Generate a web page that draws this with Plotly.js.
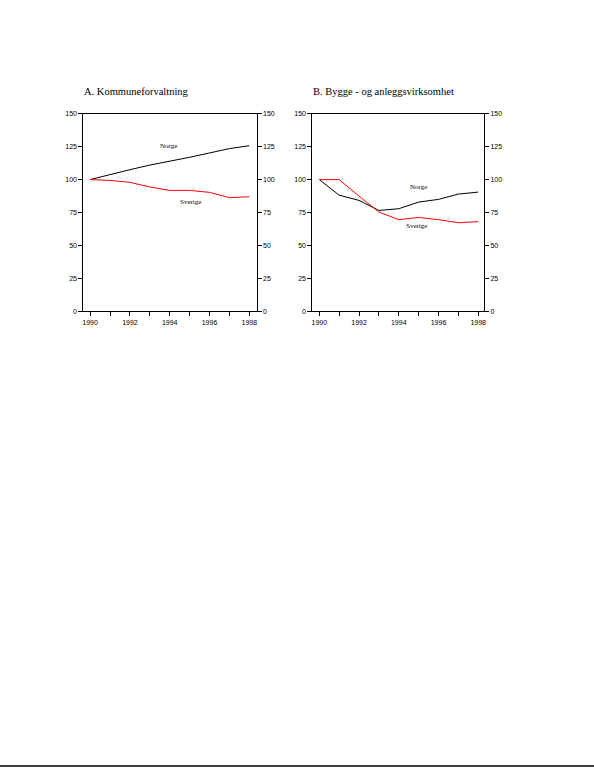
<!DOCTYPE html>
<html>
<head>
<meta charset="utf-8">
<script src="https://cdn.plot.ly/plotly-3.0.1.min.js"></script>
<style>html,body{margin:0;padding:0;background:#fff;}#chart{width:594px;height:768px;}</style>
</head>
<body>
<div id="chart"></div>
<script>
const years = [1990, 1991, 1992, 1993, 1994, 1995, 1996, 1997, 1998];
const kommuneNorge   = [100, 104, 107.5, 111, 113.8, 116.9, 120.2, 123.5, 125.7];
const kommuneSverige = [100, 99.4, 97.9, 94.4, 91.8, 91.8, 90.3, 86.3, 87];
const byggNorge      = [100, 88.2, 84.2, 76.6, 77.9, 82.9, 85, 89, 90.5];
const byggSverige    = [100, 100, 87.5, 75.4, 69.6, 71.3, 69.6, 67.3, 68.1];
const xTickVals = [1990, 1991, 1992, 1993, 1994, 1995, 1996, 1997, 1998];
const xTickText = ['1990', '', '1992', '', '1994', '', '1996', '', '1998'];
const yTickVals = [0, 25, 50, 75, 100, 125, 150];
const panelTitles = ['A. Kommuneforvaltning', 'B. Bygge - og anleggsvirksomhet'];
const seriesNames = ['Norge', 'Sverige'];

const tickFont = {family: 'Liberation Sans, Arial, sans-serif', size: 7, color: '#000'};
const serif = 'Liberation Serif, Times New Roman, serif';
const lineStyle = (c) => ({color: c, width: 1});

const traces = [
  {x: years, y: kommuneNorge, xaxis: 'x', yaxis: 'y', mode: 'lines', line: lineStyle('#000')},
  {x: years, y: kommuneSverige, xaxis: 'x', yaxis: 'y3', mode: 'lines', line: lineStyle('#ff0000')},
  {x: years, y: byggNorge, xaxis: 'x2', yaxis: 'y2', mode: 'lines', line: lineStyle('#000')},
  {x: years, y: byggSverige, xaxis: 'x2', yaxis: 'y4', mode: 'lines', line: lineStyle('#ff0000')}
];

const xBase = {
  tickmode: 'array', tickvals: xTickVals, ticktext: xTickText,
  ticks: 'outside', ticklen: 4, tickwidth: 1, tickcolor: '#000', color: '#000',
  showline: true, linecolor: '#000', linewidth: 1, mirror: true,
  showgrid: false, zeroline: false, tickfont: tickFont, fixedrange: true
};
const yBase = {
  range: [0, 150], tickmode: 'array', tickvals: yTickVals,
  ticks: 'outside', ticklen: 4, tickwidth: 1, tickcolor: '#000', color: '#000',
  showline: true, linecolor: '#000', linewidth: 1,
  showgrid: false, zeroline: false, tickfont: tickFont, fixedrange: true
};
const yTop = 0.852, yBot = 0.5945;

const layout = {
  width: 594, height: 768,
  margin: {l: 0, r: 0, t: 0, b: 0},
  paper_bgcolor: '#fff', plot_bgcolor: '#fff',
  showlegend: false,
  xaxis: Object.assign({}, xBase, {domain: [0.1403, 0.4321], range: [1989.66, 1998.37], anchor: 'y'}),
  xaxis2: Object.assign({}, xBase, {domain: [0.5258, 0.8148], range: [1989.65, 1998.29], anchor: 'y2'}),
  yaxis: Object.assign({}, yBase, {domain: [yBot, yTop], anchor: 'x', side: 'left'}),
  yaxis3: Object.assign({}, yBase, {overlaying: 'y', anchor: 'x', side: 'right'}),
  yaxis2: Object.assign({}, yBase, {domain: [yBot, yTop], anchor: 'x2', side: 'left'}),
  yaxis4: Object.assign({}, yBase, {overlaying: 'y2', anchor: 'x2', side: 'right'}),
  annotations: [
    {text: panelTitles[0], xref: 'paper', yref: 'paper', x: 82/594, y: 1 - 92/768, xanchor: 'left', yanchor: 'middle', showarrow: false,
     font: {family: serif, size: 10.5, color: '#000'}},
    {text: panelTitles[1], xref: 'paper', yref: 'paper', x: 311/594, y: 1 - 92/768, xanchor: 'left', yanchor: 'middle', showarrow: false,
     font: {family: serif, size: 10.5, color: '#000'}},
    {text: seriesNames[0], xref: 'x', yref: 'y', x: 1993.93, y: 125.5, showarrow: false,
     font: {family: serif, size: 7, color: '#000'}},
    {text: seriesNames[1], xref: 'x', yref: 'y', x: 1995.06, y: 82.8, showarrow: false,
     font: {family: serif, size: 7, color: '#000'}},
    {text: seriesNames[0], xref: 'x2', yref: 'y2', x: 1994.98, y: 94.3, showarrow: false,
     font: {family: serif, size: 7, color: '#000'}},
    {text: seriesNames[1], xref: 'x2', yref: 'y2', x: 1994.87, y: 64.5, showarrow: false,
     font: {family: serif, size: 7, color: '#000'}}
  ],
  shapes: [
    {type: 'line', xref: 'paper', yref: 'paper', x0: 0, x1: 1, y0: 1 - 766/768, y1: 1 - 766/768,
     line: {color: '#000', width: 1.5}}
  ]
};

Plotly.newPlot('chart', traces, layout, {staticPlot: true, displayModeBar: false});
</script>
</body>
</html>
